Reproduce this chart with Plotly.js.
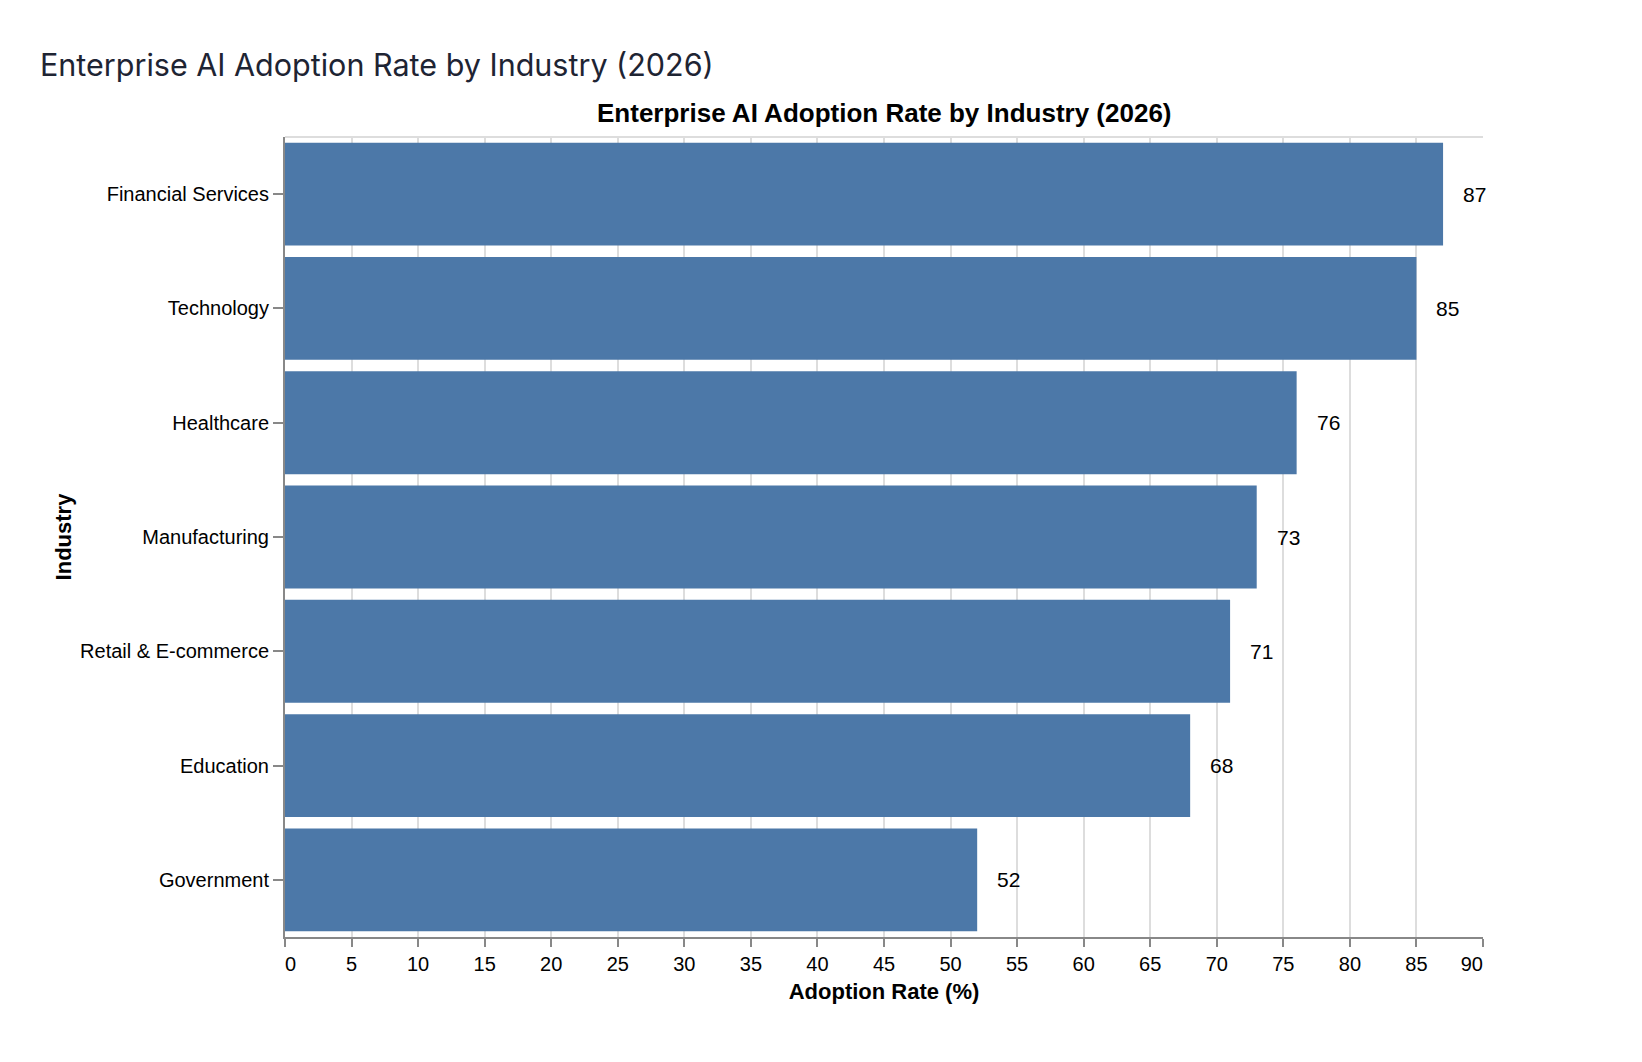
<!DOCTYPE html>
<html>
<head>
<meta charset="utf-8">
<script src="https://cdn.plot.ly/plotly-3.0.1.min.js"></script>
<style>
  html, body { margin: 0; padding: 0; background: #ffffff; }
  #chart { width: 1642px; height: 1062px; }
</style>
</head>
<body>
<div id="chart"></div>
<script>
// data
const industries = [
    'Financial Services', 'Technology', 'Healthcare', 'Manufacturing',
    'Retail & E-commerce', 'Education', 'Government'
];
const adoptionRates = [87, 85, 76, 73, 71, 68, 52];
const xTicks = [0, 5, 10, 15, 20, 25, 30, 35, 40, 45, 50, 55, 60, 65, 70, 75, 80, 85, 90];

const BAR_COLOR = '#4c78a8';
const FONT = "'Liberation Sans', Arial, Helvetica, sans-serif";
const FIG_SPACE = '\u2007';

// first and last tick labels sit flush with the axis ends
const xTickText = xTicks.map((v, i) => {
    if (i === 0) return FIG_SPACE + v;
    if (i === xTicks.length - 1) return v + FIG_SPACE + FIG_SPACE;
    return String(v);
});

const data = [{
    type: 'bar',
    orientation: 'h',
    x: adoptionRates,
    y: industries,
    marker: { color: BAR_COLOR },
    hovertemplate: '%{y}: %{x}<extra></extra>'
}];

// value labels at the end of each bar
const labels = industries.map((name, i) => ({
    x: adoptionRates[i],
    y: name,
    xref: 'x',
    yref: 'y',
    text: String(adoptionRates[i]),
    showarrow: false,
    xanchor: 'left',
    yanchor: 'middle',
    xshift: 18,
    font: { family: FONT, size: 21, color: '#000000' }
}));

const layout = {
    width: 1642,
    height: 1062,
    margin: { l: 285, r: 159, t: 137, b: 125 },
    paper_bgcolor: '#ffffff',
    plot_bgcolor: '#ffffff',
    bargap: 0.1,
    showlegend: false,
    title: {
        text: 'Enterprise AI Adoption Rate by Industry (2026)',
        x: 40 / 1642,
        xanchor: 'left',
        y: 1 - 65 / 1062,
        yanchor: 'middle',
        font: { family: 'Inter, "Open Sans", sans-serif', size: 30.5, color: '#1e2433' }
    },
    xaxis: {
        range: [0, 90],
        tickvals: xTicks,
        ticktext: xTickText,
        ticks: 'outside',
        ticklen: 8,
        tickwidth: 2,
        tickcolor: '#888888',
        showline: true,
        linecolor: '#888888',
        linewidth: 2,
        showgrid: true,
        gridcolor: '#dddddd',
        gridwidth: 2,
        zeroline: false,
        fixedrange: true,
        tickfont: { family: FONT, size: 20, color: '#000000' },
        title: {
            text: '<b>Adoption Rate (%)</b>',
            standoff: 10,
            font: { family: FONT, size: 22, color: '#000000' }
        }
    },
    yaxis: {
        type: 'category',
        autorange: 'reversed',
        ticks: 'outside',
        ticklen: 10,
        tickwidth: 2,
        tickcolor: '#888888',
        showline: true,
        linecolor: '#888888',
        linewidth: 2,
        showgrid: false,
        zeroline: false,
        fixedrange: true,
        tickfont: { family: FONT, size: 20, color: '#000000' },
        title: {
            text: '<b>Industry</b>',
            standoff: 2,
            font: { family: FONT, size: 22, color: '#000000' }
        }
    },
    shapes: [{
        // top edge of the view frame
        type: 'line',
        xref: 'paper', yref: 'paper',
        x0: 0, x1: 1, y0: 1, y1: 1,
        line: { color: '#dddddd', width: 2 },
        layer: 'below'
    }],
    annotations: [{
        text: '<b>Enterprise AI Adoption Rate by Industry (2026)</b>',
        xref: 'paper', yref: 'paper',
        x: 0.5, y: 1,
        xanchor: 'center', yanchor: 'middle',
        yshift: 24,
        showarrow: false,
        font: { family: FONT, size: 26, color: '#000000' }
    }].concat(labels)
};

Plotly.newPlot('chart', data, layout, { displayModeBar: false, responsive: false });
</script>
</body>
</html>
